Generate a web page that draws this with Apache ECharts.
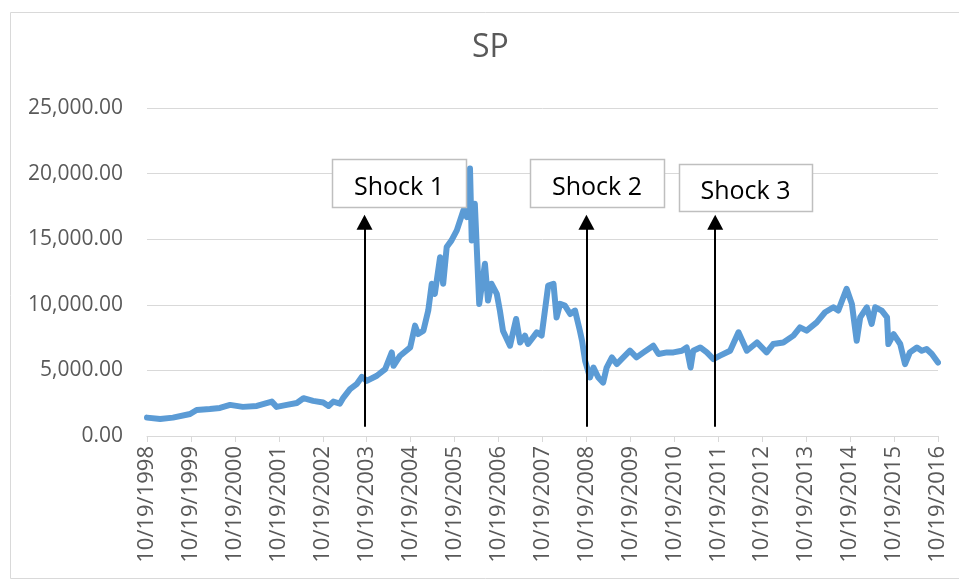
<!DOCTYPE html>
<html>
<head>
<meta charset="utf-8">
<script src="https://cdn.jsdelivr.net/npm/echarts@6/dist/echarts.min.js"></script>
<style>
  html, body { margin: 0; padding: 0; background: #fff; }
  #main { width: 959px; height: 581px; }
</style>
</head>
<body>
<div id="main"></div>
<script>
// years counted from 10/19/1998 (0 = 10/19/1998, 18 = 10/19/2016)
var yearOffsets = [
  0, 0.30, 0.59, 0.98, 1.13, 1.43, 1.66, 1.89, 2.18, 2.50,
  2.84, 2.95, 3.18, 3.41, 3.56, 3.78, 4.01, 4.13, 4.24, 4.39,
  4.47, 4.62, 4.77, 4.89, 5.00, 5.23, 5.42, 5.57, 5.61, 5.76,
  5.99, 6.10, 6.17, 6.29, 6.40, 6.48, 6.55, 6.67, 6.74, 6.82,
  6.93, 7.05, 7.20, 7.28, 7.35, 7.39, 7.46, 7.56, 7.69, 7.76,
  7.84, 7.96, 8.03, 8.10, 8.26, 8.40, 8.49, 8.60, 8.67, 8.87,
  8.98, 9.13, 9.25, 9.32, 9.40, 9.51, 9.63, 9.74, 9.85, 9.90,
  9.97, 10.08, 10.16, 10.27, 10.38, 10.46, 10.58, 10.69, 10.80, 10.99,
  11.14, 11.30, 11.52, 11.64, 11.83, 11.98, 12.17, 12.28, 12.37, 12.43,
  12.59, 12.74, 12.89, 13.04, 13.27, 13.46, 13.65, 13.88, 14.10, 14.25,
  14.48, 14.71, 14.86, 15.01, 15.24, 15.43, 15.62, 15.73, 15.92, 16.04,
  16.15, 16.23, 16.38, 16.49, 16.57, 16.72, 16.84, 16.87, 16.99, 17.14,
  17.25, 17.36, 17.52, 17.63, 17.74, 17.86, 18.00
];
var spValues = [
  1400, 1300, 1400, 1680, 1980, 2060, 2140, 2370, 2220, 2290,
  2620, 2220, 2370, 2520, 2880, 2680, 2550, 2290, 2620, 2470,
  2930, 3570, 3950, 4510, 4200, 4590, 5100, 6370, 5350, 6120,
  6750, 8410, 7770, 8030, 9560, 11600, 10830, 13630, 11600, 14400,
  14910, 15670, 17200, 16690, 20390, 14910, 17710, 10070, 13130, 10320,
  11600, 10830, 9560, 8030, 6880, 8920, 7130, 7650, 7010, 7900,
  7650, 11470, 11600, 9040, 10070, 9940, 9300, 9560, 8030, 7260,
  5730, 4460, 5220, 4460, 4070, 5220, 5990, 5480, 5860, 6500,
  5990, 6370, 6880, 6250, 6370, 6370, 6500, 6750, 5220, 6500,
  6750, 6370, 5860, 6120, 6500, 7900, 6500, 7130, 6370, 7010,
  7130, 7650, 8280, 8030, 8660, 9430, 9810, 9560, 11220, 10070,
  7260, 9040, 9810, 8540, 9810, 9560, 9040, 7010, 7770, 7010,
  5480, 6370, 6750, 6500, 6630, 6250, 5600
];
var tickLabels = [
  '10/19/1998', '10/19/1999', '10/19/2000', '10/19/2001', '10/19/2002',
  '10/19/2003', '10/19/2004', '10/19/2005', '10/19/2006', '10/19/2007',
  '10/19/2008', '10/19/2009', '10/19/2010', '10/19/2011', '10/19/2012',
  '10/19/2013', '10/19/2014', '10/19/2015', '10/19/2016'
];
var shockNames = ['Shock 1', 'Shock 2', 'Shock 3'];
var shockYears = [4.95, 10, 12.93];
var arrowFrom = 700, arrowTo = 16300;

var chart = echarts.init(document.getElementById('main'));

var points = [];
for (var i = 0; i < yearOffsets.length; i++) {
  points.push([yearOffsets[i], spValues[i]]);
}
var arrows = [];
for (var j = 0; j < shockYears.length; j++) {
  arrows.push([
    { coord: [shockYears[j], arrowFrom], symbol: 'none' },
    { coord: [shockYears[j], arrowTo], symbol: 'triangle', symbolSize: [16, 15] }
  ]);
}

// text boxes above the arrows
var boxes = [
  { x: 332, y: 159, w: 134, h: 48, ty: 188 },
  { x: 530, y: 159, w: 134, h: 48, ty: 188 },
  { x: 679, y: 164, w: 133, h: 47, ty: 192 }
];
var graphics = [{
  type: 'rect', left: 8, top: 10, z: -1,
  shape: { width: 960, height: 566 },
  style: { fill: 'none', stroke: '#d9d9d9', lineWidth: 1 }
}];
boxes.forEach(function (b, k) {
  graphics.push({
    type: 'rect', x: b.x + 0.5, y: b.y + 0.5, z: 10,
    shape: { width: b.w, height: b.h },
    style: { fill: '#fff', stroke: '#bfbfbf', lineWidth: 1.5 }
  });
  graphics.push({
    type: 'text', x: b.x + b.w / 2, y: b.ty, z: 11,
    style: {
      text: shockNames[k], fill: '#000', font: '25px "Open Sans"',
      textAlign: 'center', textVerticalAlign: 'middle'
    }
  });
});

var option = {
  animation: false,
  title: {
    text: 'SP', left: 467, top: 27,
    textStyle: { fontFamily: 'Open Sans', fontSize: 32, fontWeight: 'normal', color: '#595959' }
  },
  grid: { left: 147, right: 21, top: 108, bottom: 145 },
  xAxis: {
    type: 'value', min: 0, max: 18, interval: 1,
    axisLine: { show: true, lineStyle: { color: '#d9d9d9', width: 1 } },
    axisTick: { show: true, length: 6, lineStyle: { color: '#d9d9d9' } },
    splitLine: { show: false },
    axisLabel: {
      rotate: 90, margin: 10, color: '#595959', fontFamily: 'Open Sans', fontSize: 22,
      formatter: function (v) { return tickLabels[Math.round(v)]; }
    }
  },
  yAxis: {
    type: 'value', min: 0, max: 25000, interval: 5000,
    axisLine: { show: false }, axisTick: { show: false },
    splitLine: { lineStyle: { color: '#d9d9d9', width: 1 } },
    axisLabel: {
      margin: 24, color: '#595959', fontFamily: 'Open Sans', fontSize: 21,
      formatter: function (v) {
        return v.toLocaleString('en-US', { minimumFractionDigits: 2, maximumFractionDigits: 2 });
      }
    }
  },
  series: [{
    name: 'SP',
    type: 'line',
    data: points,
    showSymbol: false,
    lineStyle: { color: '#5b9bd5', width: 6, cap: 'round', join: 'round' },
    markLine: {
      silent: true,
      symbol: ['none', 'triangle'],
      symbolSize: [16, 15],
      label: { show: false },
      emphasis: { disabled: true },
      itemStyle: { color: '#000' },
      lineStyle: { color: '#000', width: 2, type: 'solid' },
      data: arrows
    }
  }],
  graphic: graphics
};
chart.setOption(option);
</script>
</body>
</html>
